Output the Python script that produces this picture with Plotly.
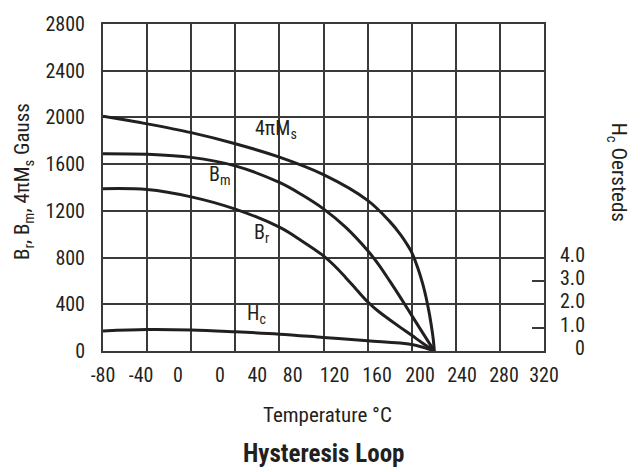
import plotly.graph_objects as go

# Temperature (deg C) / flux density (Gauss) readings for the ferrite
temp_ms = [-80, -40, 0, 40, 80, 120, 160, 180, 190, 195, 200, 205, 210, 213, 216, 218, 219.5, 220.5]
ms_gauss = [2010, 1945, 1870, 1775, 1660, 1510, 1290, 1110, 995, 925, 845, 725, 575, 460, 320, 205, 105, 0]

temp_bm = [-80, -40, 0, 40, 80, 100, 120, 140, 160, 170, 180, 190, 200, 210, 220.5]
bm_gauss = [1690, 1685, 1658, 1585, 1443, 1340, 1217, 1060, 860, 740, 600, 455, 305, 155, 0]

temp_br = [-80, -40, 0, 40, 80, 100, 120, 130, 140, 150, 160, 170, 180, 190, 200, 210, 220.5]
br_gauss = [1390, 1383, 1320, 1215, 1060, 945, 815, 730, 630, 525, 422, 338, 268, 200, 134, 67, 0]

# Coercive force in Oersteds (right-hand scale)
temp_hc = [-80, -40, 0, 40, 80, 120, 160, 200, 220.5]
hc_oe = [0.86, 0.92, 0.90, 0.82, 0.72, 0.58, 0.44, 0.28, 0.0]

# Axis labels
x_tick_text = ["-80", "-40", "0", "0", "40", "80", "120", "160", "200", "240", "280", "320"]
x_tick_pos = [-80, -45.5, -12, 26, 60, 92, 130, 168.5, 207.5, 245.6, 283.7, 320]
y_tick_vals = [0, 400, 800, 1200, 1600, 2000, 2400, 2800]
hc_tick_vals = [0, 1, 2, 3, 4]
hc_tick_text = ["0", "1.0", "2.0", "3.0", "4.0"]

FONT = "Roboto Condensed, Liberation Sans, Arial, sans-serif"
INK = "#231f20"
GRID = "#3a3a3a"
TS = 20

fig = go.Figure()
line = dict(color=INK, width=3, shape="spline", smoothing=1.0)
fig.add_trace(go.Scatter(x=temp_ms, y=ms_gauss, mode="lines", line=line, showlegend=False))
fig.add_trace(go.Scatter(x=temp_bm, y=bm_gauss, mode="lines", line=line, showlegend=False))
fig.add_trace(go.Scatter(x=temp_br, y=br_gauss, mode="lines", line=line, showlegend=False))
fig.add_trace(go.Scatter(x=temp_hc, y=hc_oe, mode="lines", line=line,
                         xaxis="x2", yaxis="y2", showlegend=False))

fig.update_layout(
    width=642, height=472,
    margin=dict(l=103, r=98, t=13, b=121),
    paper_bgcolor="white", plot_bgcolor="white",
    font=dict(family=FONT, size=TS, color=INK),
    xaxis=dict(range=[-80, 320], tick0=-80, dtick=40, showgrid=True,
               gridcolor=GRID, gridwidth=1.5, showticklabels=False, ticks="",
               showline=True, linecolor=GRID, linewidth=2, mirror=True, zeroline=False),
    xaxis2=dict(range=[-80, 320], overlaying="x", anchor="y", side="bottom",
                tickmode="array", tickvals=x_tick_pos, ticktext=x_tick_text,
                showgrid=False, zeroline=False, showline=False,
                ticks="outside", ticklen=6, tickcolor="rgba(0,0,0,0)",
                tickfont=dict(family=FONT, size=TS, color=INK)),
    yaxis=dict(range=[0, 2800], tickmode="array", tickvals=y_tick_vals,
               showgrid=True, gridcolor=GRID, gridwidth=1.5, zeroline=False,
               showline=True, linecolor=GRID, linewidth=2, mirror=True,
               ticks="outside", ticklen=12, tickcolor="rgba(0,0,0,0)",
               tickfont=dict(family=FONT, size=TS, color=INK)),
    yaxis2=dict(range=[0, 14], overlaying="y", anchor="x", side="right",
                tickmode="array", tickvals=hc_tick_vals, showticklabels=False,
                ticks="inside", ticklen=12, tickwidth=1.5, tickcolor=GRID,
                showgrid=False, zeroline=False, showline=False),
)

annotations = []
# Right-hand Hc scale labels, right-aligned
for v, t in zip(hc_tick_vals, hc_tick_text):
    annotations.append(dict(x=1.0975, xref="paper", y=v, yref="y2", text=t,
                            xanchor="right", yanchor="middle", yshift=3, showarrow=False,
                            font=dict(family=FONT, size=TS, color=INK)))

# Curve names
curve_labels = [
    ("4πM<sub>s</sub>", 77, 1900),
    ("B<sub>m</sub>", 26, 1505),
    ("B<sub>r</sub>", 64, 1007),
    ("H<sub>c</sub>", 59, 320),
]
for text, x, y in curve_labels:
    annotations.append(dict(x=x, y=y, xref="x", yref="y", text=text, showarrow=False,
                            xanchor="center", yanchor="middle",
                            font=dict(family=FONT, size=TS, color=INK)))

# Axis titles and chart title
annotations += [
    dict(x=-0.179, y=0.517, xref="paper", yref="paper", textangle=-90,
         text="B<sub>r</sub>, B<sub>m</sub>, 4πM<sub>s</sub> Gauss", showarrow=False,
         xanchor="center", yanchor="middle", font=dict(family=FONT, size=21, color=INK)),
    dict(x=1.1655, y=0.545, xref="paper", yref="paper", textangle=90,
         text="H<sub>c</sub> Oersteds", showarrow=False,
         xanchor="center", yanchor="middle", font=dict(family=FONT, size=21, color=INK)),
    dict(x=0.509, y=-0.196, xref="paper", yref="paper",
         text="Temperature °C", showarrow=False,
         xanchor="center", yanchor="middle", font=dict(family=FONT, size=21, color=INK)),
    dict(x=0.499, y=-0.314, xref="paper", yref="paper",
         text="<b>Hysteresis Loop</b>", showarrow=False,
         xanchor="center", yanchor="middle", font=dict(family=FONT, size=25, color=INK)),
]
fig.update_layout(annotations=annotations)

fig.write_html("out.html")
